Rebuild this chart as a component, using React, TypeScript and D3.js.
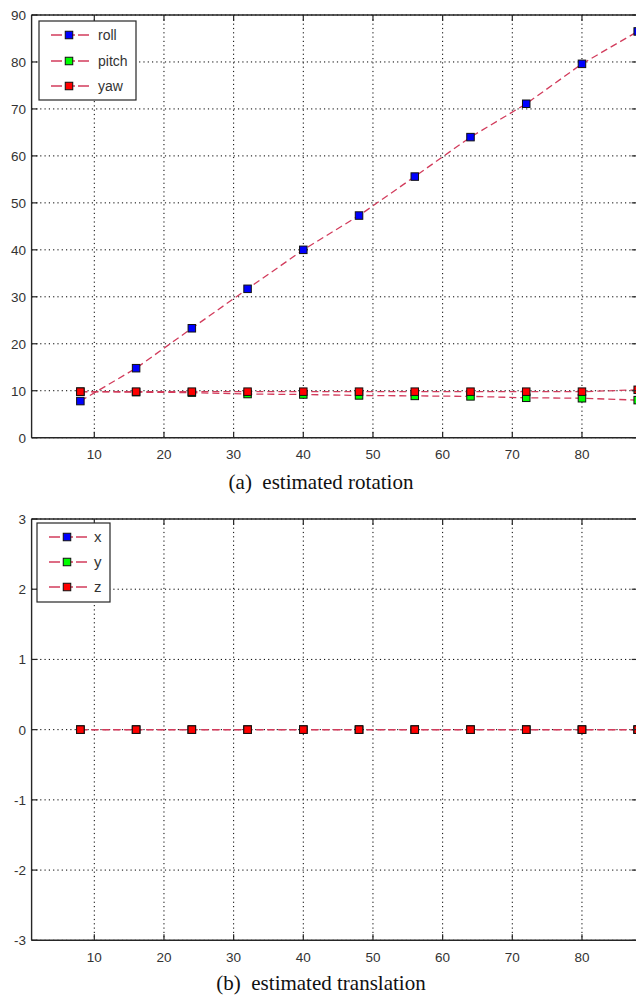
import React from "react";
import * as d3 from "d3";

const xs = [8, 16, 24, 32, 40, 48, 56, 64, 72, 80, 88];
const roll = [7.8, 14.8, 23.3, 31.7, 40.0, 47.3, 55.6, 64.0, 71.1, 79.6, 86.5];
const pitch = [9.8, 9.7, 9.6, 9.3, 9.2, 9.0, 8.9, 8.8, 8.5, 8.4, 8.0];
const yaw = [9.8, 9.8, 9.8, 9.8, 9.8, 9.8, 9.8, 9.8, 9.8, 9.8, 10.2];
const tx = [0, 0, 0, 0, 0, 0, 0, 0, 0, 0, 0];
const ty = [0, 0, 0, 0, 0, 0, 0, 0, 0, 0, 0];
const tz = [0, 0, 0, 0, 0, 0, 0, 0, 0, 0, 0];
const xTicks = [10, 20, 30, 40, 50, 60, 70, 80];
const rotTicks = [0, 10, 20, 30, 40, 50, 60, 70, 80, 90];
const transTicks = [-3, -2, -1, 0, 1, 2, 3];
const rotNames = ["roll", "pitch", "yaw"];
const transNames = ["x", "y", "z"];
const markerFill = ["#0000ff", "#00ff00", "#ff0000"];

const LINE = "#d23c5c";
const AX = "#262626";
const FONT = "'Liberation Sans', Arial, sans-serif";

type PanelProps = {
  yDomain: [number, number];
  yRange: [number, number];
  yTicks: number[];
  series: number[][];
  names: string[];
  legend: { x: number; y: number; w: number; h: number; rows: number[]; mx: number; lx0: number; lx1: number; tx: number; fs: number };
  caption: string;
  captionY: number;
  xLabelY: number;
  clipId: string;
};

const x = d3.scaleLinear().domain([1, 88]).range([31.6, 637.7]);

function Panel(p: PanelProps) {
  const y = d3.scaleLinear().domain(p.yDomain).range(p.yRange);
  const [x0, x1] = x.range();
  const yTop = p.yRange[1];
  const yBot = p.yRange[0];
  const line = d3
    .line<number>()
    .x((_, i) => x(xs[i]))
    .y((d) => y(d));
  const ms = 7.5;
  return (
    <g>
      <defs>
        <clipPath id={p.clipId}>
          <rect x={x0} y={yTop} width={x1 - x0} height={yBot - yTop} />
        </clipPath>
      </defs>
      <rect x={x0} y={yTop} width={x1 - x0} height={yBot - yTop} fill="#fff" />
      {xTicks.map((t) => (
        <line key={"gx" + t} x1={x(t)} x2={x(t)} y1={yTop} y2={yBot} stroke="#000" strokeWidth={1} strokeDasharray="1.2,3.1" />
      ))}
      {p.yTicks.map((t) => (
        <line key={"gy" + t} x1={x0} x2={x1} y1={y(t)} y2={y(t)} stroke="#000" strokeWidth={1} strokeDasharray="1.2,3.1" />
      ))}
      <g clipPath={`url(#${p.clipId})`}>
        {p.series.map((s, i) => (
          <path key={"l" + i} d={line(s) || ""} fill="none" stroke={LINE} strokeWidth={1.3} strokeDasharray="7,4" />
        ))}
        {p.series.map((s, i) => (
          <g key={"m" + i}>
            {s.map((v, j) => (
              <rect key={j} x={x(xs[j]) - ms / 2} y={y(v) - ms / 2} width={ms} height={ms} fill={markerFill[i]} stroke="#111" strokeWidth={1} />
            ))}
          </g>
        ))}
      </g>
      <line x1={x0} x2={x1} y1={yTop} y2={yTop} stroke={AX} strokeWidth={1.4} />
      <line x1={x0} x2={x1} y1={yBot} y2={yBot} stroke={AX} strokeWidth={1.4} />
      <line x1={x0} x2={x0} y1={yTop} y2={yBot} stroke={AX} strokeWidth={1.4} />
      <line x1={x1} x2={x1} y1={yTop} y2={yBot} stroke={AX} strokeWidth={1.4} />
      {xTicks.map((t) => (
        <g key={"tx" + t}>
          <line x1={x(t)} x2={x(t)} y1={yBot} y2={yBot - 6} stroke={AX} strokeWidth={1.2} />
          <line x1={x(t)} x2={x(t)} y1={yTop} y2={yTop + 6} stroke={AX} strokeWidth={1.2} />
          <text x={x(t)} y={p.xLabelY} textAnchor="middle" fontFamily={FONT} fontSize={13.5} fill="#333">
            {t}
          </text>
        </g>
      ))}
      {p.yTicks.map((t) => (
        <g key={"ty" + t}>
          <line x1={x0} x2={x0 + 6} y1={y(t)} y2={y(t)} stroke={AX} strokeWidth={1.2} />
          <line x1={x1} x2={x1 - 6} y1={y(t)} y2={y(t)} stroke={AX} strokeWidth={1.2} />
          <text x={26} y={y(t) + 5} textAnchor="end" fontFamily={FONT} fontSize={13.5} fill="#333">
            {t}
          </text>
        </g>
      ))}
      <rect x={p.legend.x} y={p.legend.y} width={p.legend.w} height={p.legend.h} fill="#fff" stroke={AX} strokeWidth={1.2} />
      {p.names.map((n, i) => {
        const ry = p.legend.rows[i];
        return (
          <g key={"lg" + n}>
            <line x1={p.legend.lx0} x2={p.legend.lx1} y1={ry} y2={ry} stroke={LINE} strokeWidth={1.3} strokeDasharray="11,4,0,4,5,3" />
            <rect x={p.legend.mx - ms / 2} y={ry - ms / 2} width={ms} height={ms} fill={markerFill[i]} stroke="#111" strokeWidth={1} />
            <text x={p.legend.tx} y={ry + 5} fontFamily={FONT} fontSize={p.legend.fs} fill="#333">
              {n}
            </text>
          </g>
        );
      })}
      <text x={321} y={p.captionY} textAnchor="middle" fontFamily="'Liberation Serif', 'Times New Roman', serif" fontSize={21} fill="#111" style={{ whiteSpace: "pre" }}>
        {p.caption}
      </text>
    </g>
  );
}

export default function App() {
  return (
    <svg width={636} height={998} style={{ position: "absolute", left: 0, top: 0, background: "#fff" }}>
      <rect width={636} height={998} fill="#fff" />
      <Panel
        yDomain={[0, 90]}
        yRange={[437.7, 15]}
        yTicks={rotTicks}
        series={[roll, pitch, yaw]}
        names={rotNames}
        legend={{ x: 39, y: 21, w: 97, h: 79, rows: [35, 61, 86], mx: 69, lx0: 51, lx1: 92, tx: 98, fs: 14 }}
        caption={"(a)  estimated rotation"}
        captionY={489}
        xLabelY={459}
        clipId="c1"
      />
      <Panel
        yDomain={[-3, 3]}
        yRange={[940.3, 519]}
        yTicks={transTicks}
        series={[tx, ty, tz]}
        names={transNames}
        legend={{ x: 37, y: 523, w: 73, h: 79, rows: [537, 562, 587], mx: 67, lx0: 49, lx1: 91, tx: 94, fs: 15 }}
        caption={"(b)  estimated translation"}
        captionY={990}
        xLabelY={962}
        clipId="c2"
      />
    </svg>
  );
}
